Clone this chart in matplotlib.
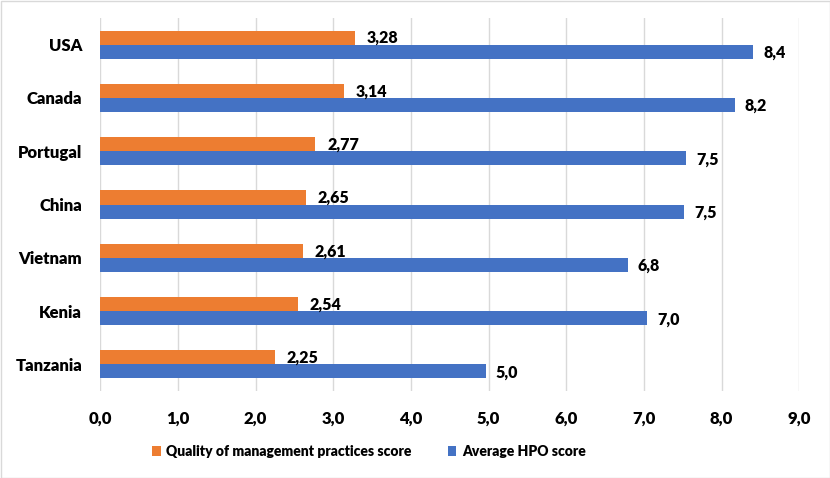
import numpy as np
import matplotlib.pyplot as plt
from matplotlib.patches import Rectangle

countries = ['USA', 'Canada', 'Portugal', 'China', 'Vietnam', 'Kenia', 'Tanzania']
quality = [3.28, 3.14, 2.77, 2.65, 2.61, 2.54, 2.25]
hpo = [8.41, 8.17, 7.54, 7.52, 6.79, 7.04, 4.96]
xticks = [0, 1, 2, 3, 4, 5, 6, 7, 8, 9]

ORANGE = '#ED7D31'
BLUE = '#4472C4'
plt.rcParams['font.family'] = ['Lato', 'DejaVu Sans']
W = 'heavy'

fig = plt.figure(figsize=(8.30, 4.78), dpi=100)
ax = fig.add_axes([100.3/830, 1 - 391/478, (799.3-100.3)/830, (391-18)/478])

y = np.arange(len(countries))
h = 0.265
ax.barh(y - h/2, quality, height=h, color=ORANGE, zorder=3, label='Quality of management practices score')
ax.barh(y + h/2, hpo, height=h, color=BLUE, zorder=3, label='Average HPO score')

for yi, v in zip(y, quality):
    ax.text(v + 0.15, yi - h/2 + 0.01, f'{v:.2f}'.replace('.', ','), va='center', ha='left',
            fontsize=11.5, fontweight=W)
for yi, v in zip(y, hpo):
    ax.text(v + 0.13, yi + h/2 + 0.02, f'{v:.1f}'.replace('.', ','), va='center', ha='left',
            fontsize=11.5, fontweight=W)

ax.set_xlim(0, 9)
ax.set_ylim(len(countries) - 0.5, -0.5)
ax.set_xticks(xticks)
ax.set_xticklabels([f'{t:.1f}'.replace('.', ',') for t in xticks], fontsize=12, fontweight=W)
ax.set_yticks(y)
ax.set_yticklabels(countries, fontsize=12, fontweight=W)
ax.tick_params(length=0, pad=14, axis='x')
ax.tick_params(length=0, pad=13, axis='y')
ax.xaxis.grid(True, color='#D9D9D9', lw=1, zorder=0)
for s in ax.spines.values():
    s.set_visible(False)

ax.legend(loc='center', bbox_to_anchor=(369/830, (478-451)/478), bbox_transform=fig.transFigure,
          ncol=2, frameon=False, handlelength=0.6, handleheight=0.7, handletextpad=0.4,
          columnspacing=2.6, prop={'weight': W, 'size': 10})

fig.patches.append(Rectangle((0.5/830, 0.5/478), 1 - 1/830, 1 - 1/478, transform=fig.transFigure,
                             fill=False, edgecolor='#D9D9D9', lw=1))

fig.savefig('out.png', dpi=100)
